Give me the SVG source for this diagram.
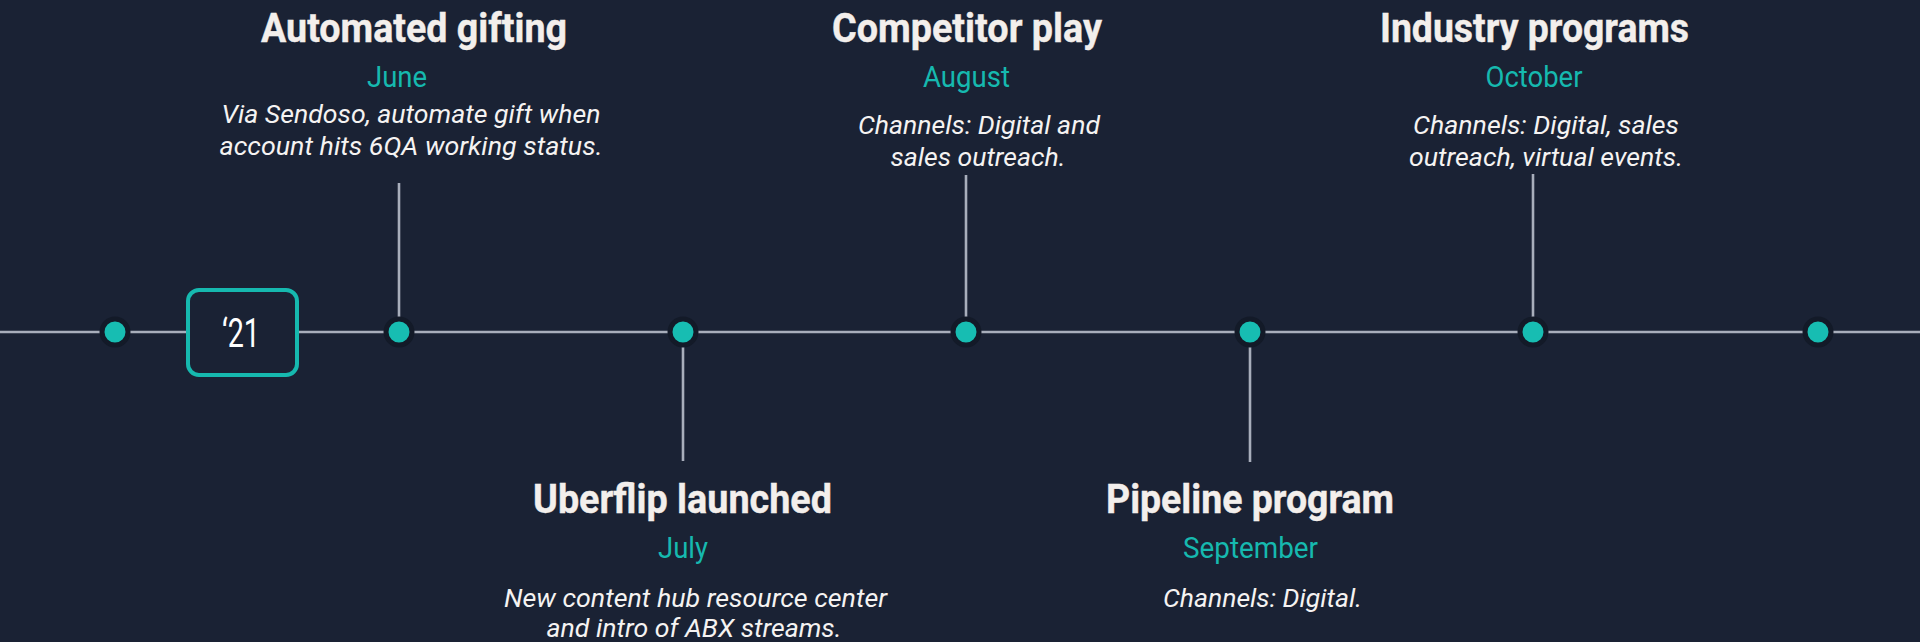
<svg xmlns="http://www.w3.org/2000/svg" width="1920" height="642" viewBox="0 0 1920 642">
<style>
.title{font-family:Roboto,"Liberation Sans",sans-serif;font-weight:700;font-size:40px;fill:#f3efec;stroke:#f3efec;stroke-width:0.4;text-anchor:middle}
.month{font-family:Roboto,"Liberation Sans",sans-serif;font-weight:400;font-size:29px;fill:#16b9af;text-anchor:middle}
.desc{font-family:Roboto,"Liberation Sans",sans-serif;font-style:italic;font-size:25px;fill:#f5f3f2;text-anchor:middle}
.year{font-family:Roboto,"Liberation Sans",sans-serif;font-weight:400;font-size:40px;fill:#ffffff;text-anchor:middle}
.ln{stroke:#a8aebb;stroke-width:2.6;fill:none}
.dot{fill:#17bdb2;stroke:#131a28;stroke-width:5}
</style>
<rect width="1920" height="642" fill="#1a2234"/>
<g id="connectors">
<line class="ln" x1="0" y1="332" x2="1920" y2="332"/>
<line class="ln" x1="399" y1="183" x2="399" y2="332"/>
<line class="ln" x1="966" y1="175" x2="966" y2="332"/>
<line class="ln" x1="1533" y1="174" x2="1533" y2="332"/>
<line class="ln" x1="683" y1="332" x2="683" y2="461"/>
<line class="ln" x1="1250" y1="332" x2="1250" y2="462"/>
</g>
<g id="dots">
<circle class="dot" cx="115" cy="332" r="13"/>
<circle class="dot" cx="399" cy="332" r="13"/>
<circle class="dot" cx="683" cy="332" r="13"/>
<circle class="dot" cx="966" cy="332" r="13"/>
<circle class="dot" cx="1250" cy="332" r="13"/>
<circle class="dot" cx="1533" cy="332" r="13"/>
<circle class="dot" cx="1818" cy="332" r="13"/>
</g>
<g id="year">
<rect x="188" y="290" width="109" height="85" rx="11" fill="#1a2234" stroke="#16b9af" stroke-width="4"/>
<text class="year" x="241" y="347" textLength="38" lengthAdjust="spacingAndGlyphs">‘21</text>
</g>
<g id="june">
<text class="title" x="414" y="42" textLength="306" lengthAdjust="spacingAndGlyphs">Automated gifting</text>
<text class="month" x="397" y="87" textLength="60" lengthAdjust="spacingAndGlyphs">June</text>
<text class="desc" x="411" y="123" textLength="379" lengthAdjust="spacingAndGlyphs">Via Sendoso, automate gift when</text>
<text class="desc" x="411" y="155" textLength="383" lengthAdjust="spacingAndGlyphs">account hits 6QA working status.</text>
</g>
<g id="july">
<text class="title" x="682.5" y="513" textLength="299" lengthAdjust="spacingAndGlyphs">Uberflip launched</text>
<text class="month" x="683" y="558" textLength="50" lengthAdjust="spacingAndGlyphs">July</text>
<text class="desc" x="695.5" y="607" textLength="383" lengthAdjust="spacingAndGlyphs">New content hub resource center</text>
<text class="desc" x="694" y="637" textLength="295" lengthAdjust="spacingAndGlyphs">and intro of ABX streams.</text>
</g>
<g id="august">
<text class="title" x="967" y="42" textLength="270" lengthAdjust="spacingAndGlyphs">Competitor play</text>
<text class="month" x="966.5" y="87" textLength="87" lengthAdjust="spacingAndGlyphs">August</text>
<text class="desc" x="979" y="134" textLength="242" lengthAdjust="spacingAndGlyphs">Channels: Digital and</text>
<text class="desc" x="978" y="166" textLength="175" lengthAdjust="spacingAndGlyphs">sales outreach.</text>
</g>
<g id="september">
<text class="title" x="1250" y="513" textLength="288" lengthAdjust="spacingAndGlyphs">Pipeline program</text>
<text class="month" x="1250.5" y="558" textLength="135" lengthAdjust="spacingAndGlyphs">September</text>
<text class="desc" x="1262.5" y="607" textLength="199" lengthAdjust="spacingAndGlyphs">Channels: Digital.</text>
</g>
<g id="october">
<text class="title" x="1534.5" y="42" textLength="309" lengthAdjust="spacingAndGlyphs">Industry programs</text>
<text class="month" x="1534" y="87" textLength="97" lengthAdjust="spacingAndGlyphs">October</text>
<text class="desc" x="1546" y="134" textLength="266" lengthAdjust="spacingAndGlyphs">Channels: Digital, sales</text>
<text class="desc" x="1546" y="166" textLength="274" lengthAdjust="spacingAndGlyphs">outreach, virtual events.</text>
</g>
</svg>
